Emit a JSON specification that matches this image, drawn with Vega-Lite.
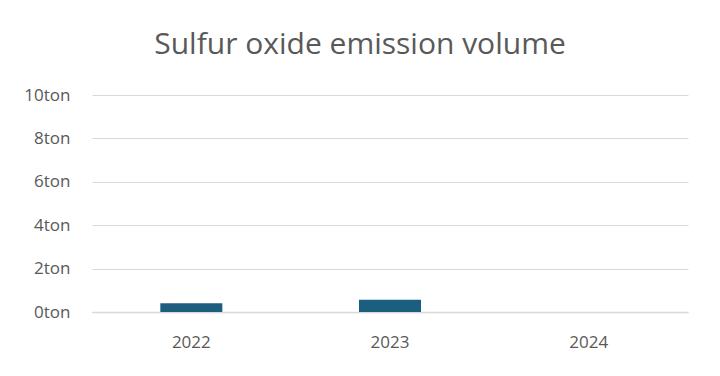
{
  "$schema": "https://vega.github.io/schema/vega-lite/v6.json",
  "width": 596,
  "height": 217,
  "autosize": {"type": "none"},
  "padding": {"left": 92, "top": 95, "right": 32, "bottom": 64},
  "background": "white",
  "title": {
    "text": "Sulfur oxide emission volume",
    "font": "Open Sans",
    "fontSize": 30,
    "fontWeight": "normal",
    "color": "#595959",
    "anchor": "middle",
    "dx": -30,
    "offset": 26
  },
  "data": {
    "values": [
      {"year": "2022", "emission": 0.4},
      {"year": "2023", "emission": 0.57},
      {"year": "2024", "emission": 0}
    ]
  },
  "mark": {"type": "bar", "color": "#1b5e80", "width": 62},
  "encoding": {
    "x": {
      "field": "year",
      "type": "ordinal",
      "axis": {
        "title": null,
        "labelAngle": 0,
        "labelFont": "Open Sans",
        "labelFontSize": 17,
        "labelColor": "#595959",
        "labelPadding": 22,
        "ticks": false,
        "domainColor": "#d9d9d9",
        "domainWidth": 1.5
      }
    },
    "y": {
      "field": "emission",
      "type": "quantitative",
      "scale": {"domain": [0, 10]},
      "axis": {
        "title": null,
        "values": [0, 2, 4, 6, 8, 10],
        "labelExpr": "datum.value + 'ton'",
        "labelFont": "Open Sans",
        "labelFontSize": 17,
        "labelColor": "#595959",
        "labelPadding": 22,
        "ticks": false,
        "domain": false,
        "gridColor": "#d9d9d9",
        "gridWidth": 1.2
      }
    }
  },
  "config": {"view": {"stroke": null}}
}
